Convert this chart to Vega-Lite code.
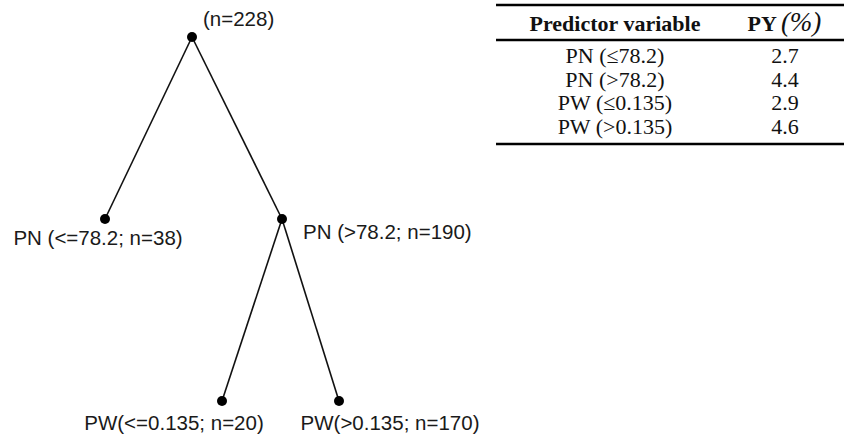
{
  "$schema": "https://vega.github.io/schema/vega-lite/v6.json",
  "padding": 0,
  "spacing": 0,
  "config": {"view": {"stroke": null}, "axis": {"disable": true}},
  "datasets": {
    "nodes": [
      {"id": "root", "pos": 19.2, "level": 0, "label": "(n=228)"},
      {"id": "pn_le", "pos": 10.5, "level": 1, "label": "PN (<=78.2; n=38)"},
      {"id": "pn_gt", "pos": 28.2, "level": 1, "label": "PN (>78.2; n=190)"},
      {"id": "pw_le", "pos": 22.2, "level": 2, "label": "PW(<=0.135; n=20)"},
      {"id": "pw_gt", "pos": 33.9, "level": 2, "label": "PW(>0.135; n=170)"}
    ],
    "edges": [
      {"from": "root", "to": "pn_le", "pos": 19.2, "level": 0, "pos2": 10.5, "level2": 1},
      {"from": "root", "to": "pn_gt", "pos": 19.2, "level": 0, "pos2": 28.2, "level2": 1},
      {"from": "pn_gt", "to": "pw_le", "pos": 28.2, "level": 1, "pos2": 22.2, "level2": 2},
      {"from": "pn_gt", "to": "pw_gt", "pos": 28.2, "level": 1, "pos2": 33.9, "level2": 2}
    ],
    "table": [
      {"row": 1, "variable": "PN (≤78.2)", "py": "2.7"},
      {"row": 2, "variable": "PN (>78.2)", "py": "4.4"},
      {"row": 3, "variable": "PW (≤0.135)", "py": "2.9"},
      {"row": 4, "variable": "PW (>0.135)", "py": "4.6"}
    ],
    "rules": [
      {"rule": "top", "row": -1.17, "from": 0.017, "to": 1},
      {"rule": "header", "row": 0.32, "from": 0.017, "to": 1},
      {"rule": "bottom", "row": 4.74, "from": 0.017, "to": 1}
    ],
    "header": [
      {"row": -0.36, "variable": "Predictor variable", "py": "PY", "unit": "(%)"}
    ]
  },
  "hconcat": [
    {
      "width": 490,
      "height": 436,
      "layer": [
        {
          "data": {"name": "edges"},
          "mark": {"type": "rule", "color": "#111", "strokeWidth": 1.6},
          "encoding": {
            "x": {"field": "pos", "type": "quantitative", "scale": {"domain": [0, 49], "nice": false, "zero": false}},
            "y": {"field": "level", "type": "quantitative", "scale": {"domain": [-0.2033, 2.1923], "reverse": true, "nice": false, "zero": false}},
            "x2": {"field": "pos2"},
            "y2": {"field": "level2"}
          }
        },
        {
          "data": {"name": "nodes"},
          "mark": {"type": "circle", "color": "#000", "opacity": 1, "size": 100},
          "encoding": {
            "x": {"field": "pos", "type": "quantitative"},
            "y": {"field": "level", "type": "quantitative"}
          }
        },
        {
          "data": {"name": "nodes"},
          "transform": [{"filter": "datum.id === 'root'"}],
          "mark": {"type": "text", "align": "left", "baseline": "middle", "dx": 11, "dy": -17, "font": "Liberation Sans", "fontSize": 20.5, "color": "#1a1a1a"},
          "encoding": {"x": {"field": "pos", "type": "quantitative"}, "y": {"field": "level", "type": "quantitative"}, "text": {"field": "label"}}
        },
        {
          "data": {"name": "nodes"},
          "transform": [{"filter": "datum.id === 'pn_le'"}],
          "mark": {"type": "text", "align": "center", "baseline": "middle", "dx": -7, "dy": 20, "font": "Liberation Sans", "fontSize": 20.5, "color": "#1a1a1a"},
          "encoding": {"x": {"field": "pos", "type": "quantitative"}, "y": {"field": "level", "type": "quantitative"}, "text": {"field": "label"}}
        },
        {
          "data": {"name": "nodes"},
          "transform": [{"filter": "datum.id === 'pn_gt'"}],
          "mark": {"type": "text", "align": "left", "baseline": "middle", "dx": 21, "dy": 14, "font": "Liberation Sans", "fontSize": 20.5, "color": "#1a1a1a"},
          "encoding": {"x": {"field": "pos", "type": "quantitative"}, "y": {"field": "level", "type": "quantitative"}, "text": {"field": "label"}}
        },
        {
          "data": {"name": "nodes"},
          "transform": [{"filter": "datum.id === 'pw_le'"}],
          "mark": {"type": "text", "align": "center", "baseline": "middle", "dx": -48, "dy": 23, "font": "Liberation Sans", "fontSize": 20.5, "color": "#1a1a1a"},
          "encoding": {"x": {"field": "pos", "type": "quantitative"}, "y": {"field": "level", "type": "quantitative"}, "text": {"field": "label"}}
        },
        {
          "data": {"name": "nodes"},
          "transform": [{"filter": "datum.id === 'pw_gt'"}],
          "mark": {"type": "text", "align": "center", "baseline": "middle", "dx": 51, "dy": 23, "font": "Liberation Sans", "fontSize": 20.5, "color": "#1a1a1a"},
          "encoding": {"x": {"field": "pos", "type": "quantitative"}, "y": {"field": "level", "type": "quantitative"}, "text": {"field": "label"}}
        }
      ]
    },
    {
      "width": 354,
      "height": 436,
      "layer": [
        {
          "data": {"name": "rules"},
          "mark": {"type": "rule", "color": "#000", "strokeWidth": 2.5},
          "encoding": {
            "x": {"field": "from", "type": "quantitative", "scale": {"domain": [0, 1], "nice": false, "zero": false}},
            "x2": {"field": "to"},
            "y": {"field": "row", "type": "quantitative", "scale": {"domain": [-1.383, 17.17], "reverse": true, "nice": false, "zero": false}}
          }
        },
        {
          "data": {"name": "header"},
          "mark": {"type": "text", "align": "center", "baseline": "middle", "font": "Liberation Serif", "fontWeight": "bold", "fontSize": 22, "color": "#111"},
          "encoding": {
            "x": {"datum": 0.353, "type": "quantitative"},
            "y": {"field": "row", "type": "quantitative"},
            "text": {"field": "variable"}
          }
        },
        {
          "data": {"name": "header"},
          "mark": {"type": "text", "align": "right", "baseline": "middle", "dx": -8, "font": "Liberation Serif", "fontWeight": "bold", "fontSize": 22, "color": "#111"},
          "encoding": {
            "x": {"datum": 0.833, "type": "quantitative"},
            "y": {"field": "row", "type": "quantitative"},
            "text": {"field": "py"}
          }
        },
        {
          "data": {"name": "header"},
          "mark": {"type": "text", "align": "left", "baseline": "middle", "dx": -4, "dy": -1, "font": "Liberation Serif", "fontStyle": "italic", "fontSize": 27, "color": "#111"},
          "encoding": {
            "x": {"datum": 0.833, "type": "quantitative"},
            "y": {"field": "row", "type": "quantitative"},
            "text": {"field": "unit"}
          }
        },
        {
          "data": {"name": "table"},
          "mark": {"type": "text", "align": "center", "baseline": "middle", "font": "Liberation Serif", "fontSize": 22, "color": "#111"},
          "encoding": {
            "x": {"datum": 0.353, "type": "quantitative"},
            "y": {"field": "row", "type": "quantitative"},
            "text": {"field": "variable"}
          }
        },
        {
          "data": {"name": "table"},
          "mark": {"type": "text", "align": "center", "baseline": "middle", "font": "Liberation Serif", "fontSize": 22, "color": "#111"},
          "encoding": {
            "x": {"datum": 0.833, "type": "quantitative"},
            "y": {"field": "row", "type": "quantitative"},
            "text": {"field": "py"}
          }
        }
      ]
    }
  ]
}
